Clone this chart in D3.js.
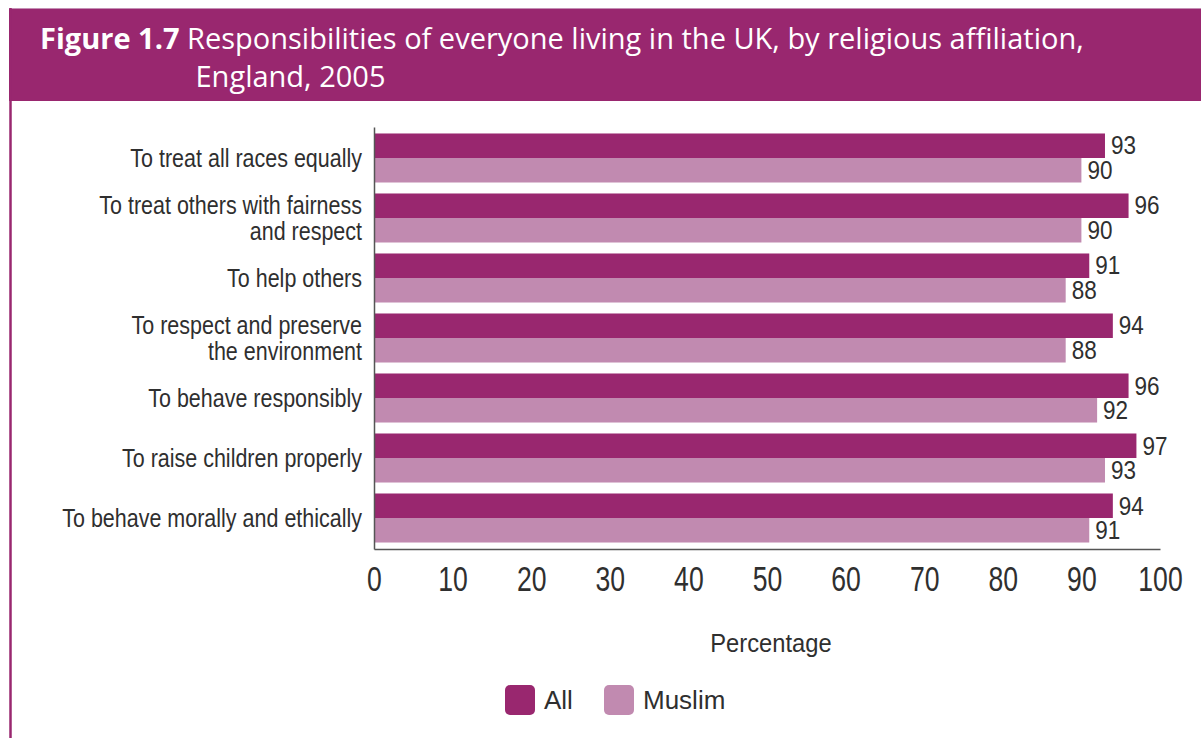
<!DOCTYPE html>
<html>
<head>
<meta charset="utf-8">
<script src="https://cdn.jsdelivr.net/npm/d3@7"></script>
<style>
  html, body { margin: 0; padding: 0; background: #fff; }
  svg { display: block; }
  text { font-family: "Liberation Sans", "Open Sans", sans-serif; fill: #2f2f2f; }
</style>
</head>
<body>
<svg id="chart" width="1201" height="738"></svg>
<script>
// Responsibilities of everyone living in the UK, by religious affiliation (%)
const categories = [
  ["To treat all races equally"],
  ["To treat others with fairness", "and respect"],
  ["To help others"],
  ["To respect and preserve", "the environment"],
  ["To behave responsibly"],
  ["To raise children properly"],
  ["To behave morally and ethically"]
];
const allValues    = [93, 96, 91, 94, 96, 97, 94];
const muslimValues = [90, 90, 88, 88, 92, 93, 91];
const seriesNames  = ["All", "Muslim"];
const xTicks       = [0, 10, 20, 30, 40, 50, 60, 70, 80, 90, 100];

const purple = "#99276f";
const pink   = "#c18ab0";
const colors = [purple, pink];

const svg = d3.select("#chart");

// Figure header band and frame edge
svg.append("rect").attr("x", 9).attr("y", 8).attr("width", 1192).attr("height", 93).attr("fill", purple);
svg.append("line").attr("x1", 9).attr("x2", 1201).attr("y1", 8.5).attr("y2", 8.5)
  .attr("stroke", "#c58fb5").attr("stroke-width", 1);
svg.append("line").attr("x1", 10.5).attr("x2", 10.5).attr("y1", 8).attr("y2", 738)
  .attr("stroke", purple).attr("stroke-width", 2.5);

const title = svg.append("text").attr("x", 40).attr("y", 49)
  .style("font-family", "'Open Sans', sans-serif").style("font-size", "29px");
const boldPart = title.append("tspan").attr("font-weight", "bold").style("fill", "#fff").text("Figure 1.7");
title.append("tspan").style("fill", "#fff").text(" Responsibilities of everyone living in the UK, by religious affiliation,");
const indent = 40 + boldPart.node().getComputedTextLength() + 16;
svg.append("text").attr("x", indent).attr("y", 87)
  .style("font-family", "'Open Sans', sans-serif").style("font-size", "29px").style("fill", "#fff")
  .text("England, 2005");

// Plot area
const x0 = 374, x1 = 1160, yTop = 127, yBottom = 549;
const x = d3.scaleLinear().domain([0, 100]).range([x0, x1]);
const y = d3.scaleBand().domain(d3.range(categories.length)).range([yTop, yBottom])
  .paddingInner(0.183).paddingOuter(0.108);
const ySub = d3.scaleBand().domain([0, 1]).range([0, y.bandwidth()]);

const rows = categories.map((c, i) => ({ i, label: c, values: [allValues[i], muslimValues[i]] }));

const groups = svg.append("g").selectAll("g").data(rows).join("g")
  .attr("transform", d => `translate(0,${y(d.i)})`);

groups.selectAll("rect").data(d => d.values.map((v, s) => ({ v, s }))).join("rect")
  .attr("x", x(0))
  .attr("y", d => ySub(d.s))
  .attr("width", d => x(d.v) - x(0))
  .attr("height", ySub.bandwidth())
  .attr("fill", d => colors[d.s]);

// Value labels at the bar ends (narrowed type)
groups.selectAll("text.val").data(d => d.values.map((v, s) => ({ v, s }))).join("text")
  .attr("class", "val")
  .attr("transform", d => `translate(${x(d.v) + 6},${ySub(d.s) + ySub.bandwidth() / 2}) scale(0.9,1)`)
  .attr("dy", "0.35em")
  .style("font-size", "25px")
  .text(d => d.v);

// Category labels
groups.append("text")
  .attr("text-anchor", "end")
  .attr("transform", "translate(362,0) scale(0.86,1)")
  .style("font-size", "25px")
  .each(function (d) {
    const t = d3.select(this);
    const n = d.label.length;
    const mid = y.bandwidth() / 2;
    d.label.forEach((line, k) => {
      t.append("tspan").attr("x", 0)
        .attr("y", mid + (k - (n - 1) / 2) * 26)
        .attr("dy", "0.35em")
        .text(line);
    });
  });

// Axes
const xAxis = d3.axisBottom(x).tickValues(xTicks).tickSize(0).tickPadding(17).tickFormat(d3.format("d"));
const gx = svg.append("g").attr("transform", `translate(0,${yBottom})`).call(xAxis);
gx.select(".domain").attr("stroke", "#555").attr("stroke-width", 1.5);
gx.selectAll(".tick text")
  .style("font-size", "35px")
  .style("font-family", "'Liberation Sans', sans-serif")
  .attr("fill", "#2f2f2f")
  .attr("transform", "scale(0.76,1)");

const yAxis = d3.axisLeft(y).tickSize(0).tickFormat(() => "");
const gy = svg.append("g").attr("transform", `translate(${x0},0)`).call(yAxis);
gy.select(".domain").attr("stroke", "#555").attr("stroke-width", 1.5);

svg.append("text")
  .attr("transform", "translate(771,652) scale(0.95,1)")
  .attr("text-anchor", "middle").style("font-size", "25px").text("Percentage");

// Legend
const legendX = [505, 604];
const legend = svg.append("g").selectAll("g").data(seriesNames).join("g")
  .attr("transform", (d, i) => `translate(${legendX[i]},685)`);
legend.append("rect").attr("width", 30).attr("height", 30).attr("rx", 5)
  .attr("fill", (d, i) => colors[i]);
legend.append("text").attr("x", 39).attr("y", 15).attr("dy", "0.35em")
  .style("font-size", "26px").text(d => d);
</script>
</body>
</html>
